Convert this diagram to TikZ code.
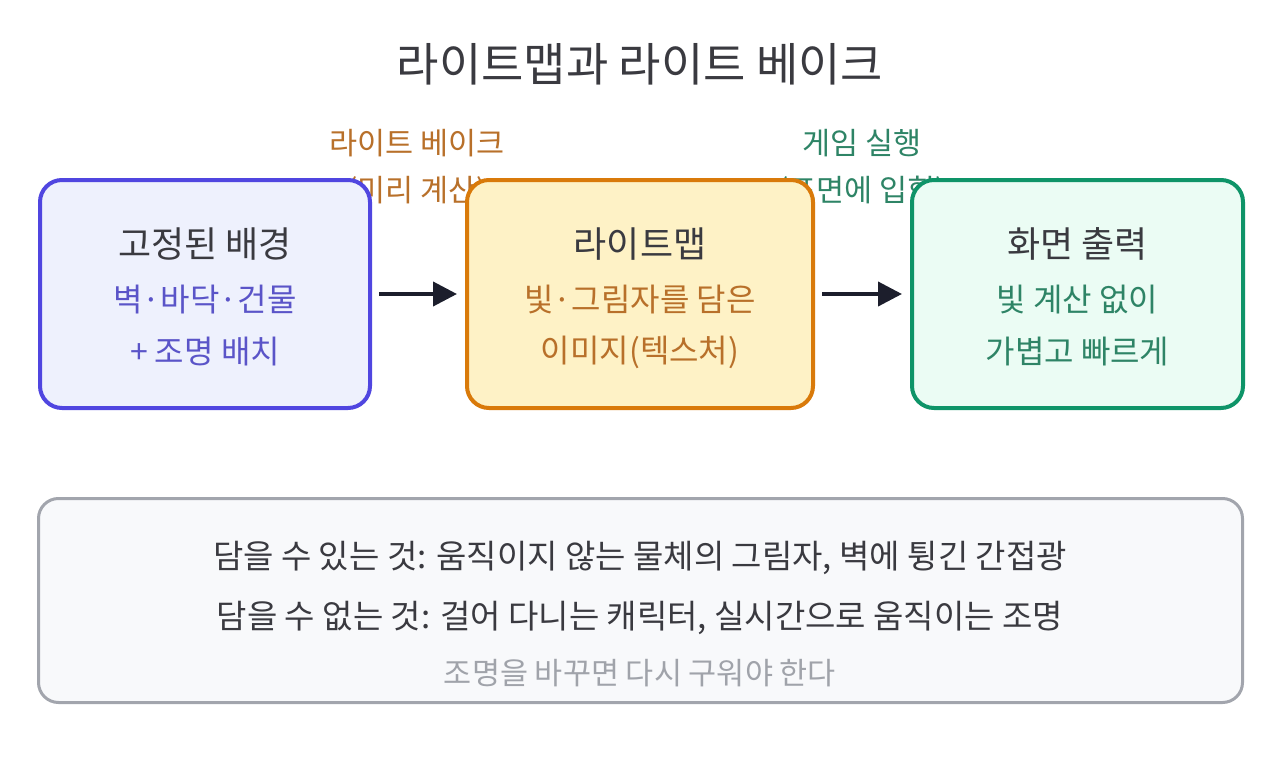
\documentclass[tikz,border=0pt]{standalone}
\usepackage{fontspec}
\setmainfont{Noto Sans CJK KR}
\usetikzlibrary{arrows.meta,positioning}

\definecolor{inkdark}{HTML}{3A3A40}
\definecolor{indigoline}{HTML}{5046E0}
\definecolor{indigofill}{HTML}{EEF1FD}
\definecolor{indigotext}{HTML}{5A54C8}
\definecolor{amberline}{HTML}{D97A0A}
\definecolor{amberfill}{HTML}{FEF2C6}
\definecolor{ambertext}{HTML}{B8702A}
\definecolor{greenline}{HTML}{0E9468}
\definecolor{greenfill}{HTML}{EBFCF4}
\definecolor{greentext}{HTML}{2E8466}
\definecolor{noteline}{HTML}{A2A5AD}
\definecolor{notefill}{HTML}{F8F9FB}
\definecolor{notegray}{HTML}{A0A3AA}
\definecolor{arrowink}{HTML}{1C1E2C}

\begin{document}
\begin{tikzpicture}[
  x=1pt,y=-1pt,
  >={Triangle[length=24pt,width=24pt]},
  card/.style={line width=4pt,rounded corners=22pt,minimum width=330pt,minimum height=228pt},
  head/.style={font=\fontsize{36}{42}\selectfont,text=inkdark},
  body/.style={font=\fontsize{32}{38}\selectfont},
  steplab/.style={font=\fontsize{30.5}{36}\selectfont},
  notetext/.style={font=\fontsize{33}{39}\selectfont,text=inkdark},
  flow/.style={->,line width=4pt,draw=arrowink,shorten <=7pt,shorten >=8pt}
]
\useasboundingbox (0,0) rectangle (1280,768);

% ---- titlu ----
\node[font=\fontsize{46}{54}\selectfont,text=inkdark] (title) at (640,64) {라이트맵과 라이트 베이크};

% ---- etichete pe sageti (sub cutii) ----
\node[steplab,text=ambertext] (bakelab) at (417,143) {라이트 베이크};
\node[steplab,text=ambertext] (bakesub) at (417,192) {(미리 계산)};
\node[steplab,text=greentext] (runlab) at (862,143) {게임 실행};
\node[steplab,text=greentext] (runsub) at (862,192) {(표면에 입힘)};

% ---- cele trei cutii ----
\node[card,draw=indigoline,fill=indigofill,minimum width=330pt] (scene) at (205,294) {};
\node[card,draw=amberline,fill=amberfill,minimum width=346pt] (lmap) at (640,294) {};
\node[card,draw=greenline,fill=greenfill,minimum width=331pt] (screen) at (1077.5,294) {};

\node[head] (scenet) at (205,244) {고정된 배경};
\node[body,text=indigotext] (scenea) at (205,300) {벽·바닥·건물};
\node[body,text=indigotext] (sceneb) at (205,352) {+ 조명 배치};

\node[head] (lmapt) at (640,244) {라이트맵};
\node[body,text=ambertext] (lmapa) at (640,300) {빛·그림자를 담은};
\node[body,text=ambertext] (lmapb) at (640,352) {이미지(텍스처)};

\node[head] (screent) at (1077.5,244) {화면 출력};
\node[body,text=greentext] (screena) at (1077.5,300) {빛 계산 없이};
\node[body,text=greentext] (screenb) at (1077.5,352) {가볍고 빠르게};

% ---- sageti ----
\draw[flow] (scene.east) -- (lmap.west);
\draw[flow] (lmap.east) -- (screen.west);

% ---- nota de jos ----
\node[draw=noteline,fill=notefill,line width=3pt,rounded corners=20pt,
      minimum width=1204pt,minimum height=204pt] (note) at (640.5,600.5) {};
\node[notetext] (canbake) at (640,558) {담을 수 있는 것: 움직이지 않는 물체의 그림자, 벽에 튕긴 간접광};
\node[notetext] (cannot) at (640,618) {담을 수 없는 것: 걸어 다니는 캐릭터, 실시간으로 움직이는 조명};
\node[font=\fontsize{30.5}{36}\selectfont,text=notegray] (rebake) at (640,673) {조명을 바꾸면 다시 구워야 한다};

\end{tikzpicture}
\end{document}
